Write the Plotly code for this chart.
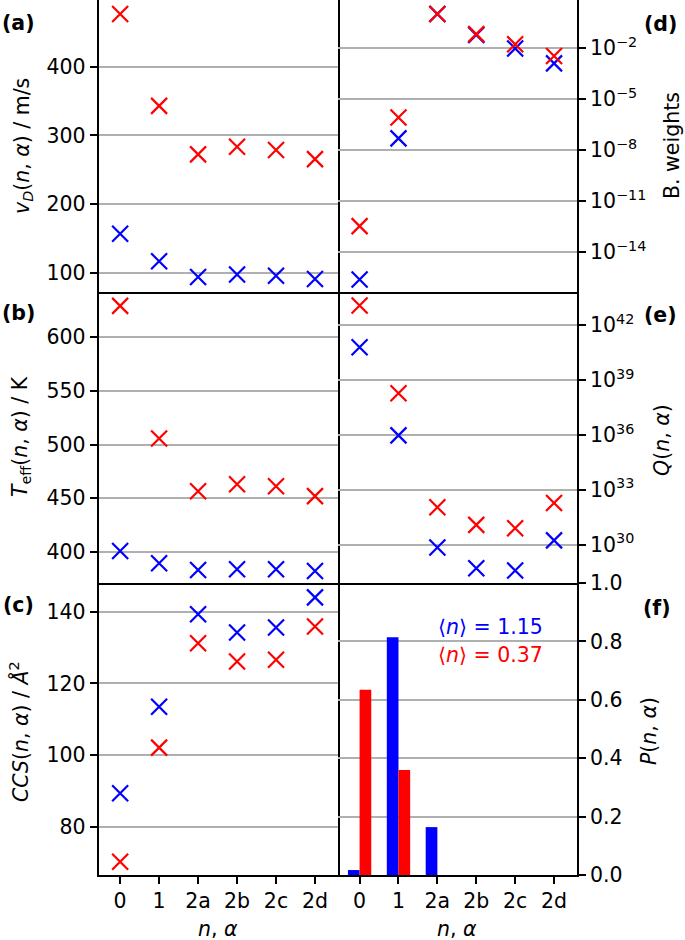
import plotly.graph_objects as go
from plotly.subplots import make_subplots

# ---------------- data ----------------
labels = ["0", "1", "2a", "2b", "2c", "2d"]
xpos = [0, 1, 2, 3, 4, 5]

vd_blue = [157, 117, 94, 97.7, 96, 91.3]
vd_red = [476.7, 343, 272.5, 283.6, 278.7, 265.6]

teff_blue = [401, 389.5, 383.3, 384, 384, 382.3]
teff_red = [629, 505.6, 456.5, 463, 461.2, 452]

ccs_blue = [89.4, 113.5, 139.3, 134.2, 135.6, 144.0]
ccs_red = [70.3, 102.1, 131.2, 126.1, 126.6, 135.9]

bw_blue = [2.5e-16, 4.9e-8, 1.0, 5.8e-2, 9.5e-3, 1.26e-3]
bw_red = [3.4e-13, 8.3e-7, 1.0, 6.6e-2, 1.66e-2, 3.4e-3]

q_blue = [6.3e40, 9.5e35, 6.9e29, 5.1e28, 3.8e28, 1.7e30]
q_red = [1.2e43, 1.9e38, 1.1e32, 1.2e31, 7.9e30, 1.9e32]

p_blue = [0.017, 0.814, 0.164, 0, 0, 0]
p_red = [0.634, 0.36, 0, 0, 0, 0]

mean_blue = "1.15"
mean_red = "0.37"

bw_ticks = [1e-14, 1e-11, 1e-8, 1e-5, 1e-2]
bw_ticktext = ["10<sup>−14</sup>", "10<sup>−11</sup>", "10<sup>−8</sup>",
               "10<sup>−5</sup>", "10<sup>−2</sup>"]
q_ticks = [1e30, 1e33, 1e36, 1e39, 1e42]
q_ticktext = ["10<sup>30</sup>", "10<sup>33</sup>", "10<sup>36</sup>",
              "10<sup>39</sup>", "10<sup>42</sup>"]

BLUE = "#0000ff"
RED = "#ff0000"
FONT = "DejaVu Sans"
W, H = 685, 940

fig = make_subplots(rows=3, cols=2, horizontal_spacing=0, vertical_spacing=0)


def xmark(x, y, color, row, col):
    fig.add_trace(go.Scatter(
        x=x, y=y, mode="markers", cliponaxis=False, showlegend=False,
        marker=dict(symbol="x-thin", size=16, color=color,
                    line=dict(color=color, width=2.2))), row=row, col=col)


xmark(xpos, vd_blue, BLUE, 1, 1)
xmark(xpos, vd_red, RED, 1, 1)
xmark(xpos, bw_blue, BLUE, 1, 2)
xmark(xpos, bw_red, RED, 1, 2)
xmark(xpos, teff_blue, BLUE, 2, 1)
xmark(xpos, teff_red, RED, 2, 1)
xmark(xpos, q_blue, BLUE, 2, 2)
xmark(xpos, q_red, RED, 2, 2)
xmark(xpos, ccs_blue, BLUE, 3, 1)
xmark(xpos, ccs_red, RED, 3, 1)

fig.add_trace(go.Bar(x=xpos, y=p_blue, width=0.3, offset=-0.3,
                     marker=dict(color=BLUE, line=dict(width=0)),
                     showlegend=False), row=3, col=2)
fig.add_trace(go.Bar(x=xpos, y=p_red, width=0.3, offset=0,
                     marker=dict(color=RED, line=dict(width=0)),
                     showlegend=False), row=3, col=2)

# ---------------- layout ----------------
xl = [98.5 / W, 338 / W]
xr = [338 / W, 577 / W]
rows_px = [(0, 292), (292, 583), (583, 875)]
ydom = [[1 - b / H, 1 - t / H] for (t, b) in rows_px]

LW = 1.7
tickfont = dict(family=FONT, size=20.5, color="black")
common_x = dict(range=[-0.555, 5.59], tickvals=xpos, ticktext=labels,
                showline=True, linecolor="black", linewidth=LW,
                showgrid=False, zeroline=False, tickfont=tickfont,
                ticks="outside", ticklen=7, tickwidth=1.5, tickcolor="black")
common_y = dict(showline=True, linecolor="black", linewidth=LW,
                showgrid=True, gridcolor="#b0b0b0", gridwidth=1.5,
                zeroline=False, tickfont=tickfont,
                ticks="outside", ticklen=7, tickwidth=1.5, tickcolor="black")

axes = {}
for i, (r, c) in enumerate([(1, 1), (1, 2), (2, 1), (2, 2), (3, 1), (3, 2)]):
    n = "" if i == 0 else str(i + 1)
    xd = xl if c == 1 else xr
    yd = ydom[r - 1]
    xa = dict(common_x, domain=xd, anchor="y" + n, mirror=(r == 1))
    if r < 3:
        xa.update(showticklabels=False, ticks="")
    ya = dict(common_y, domain=yd, anchor="x" + n,
              side="left" if c == 1 else "right", mirror=(c == 1))
    axes["xaxis" + n] = xa
    axes["yaxis" + n] = ya

axes["yaxis"].update(range=[72.3, 497], tickvals=[100, 200, 300, 400])
axes["yaxis3"].update(range=[371.2, 641.9], tickvals=[400, 450, 500, 550, 600])
axes["yaxis5"].update(range=[66.6, 148], tickvals=[80, 100, 120, 140])
axes["yaxis2"].update(type="log", range=[-16.34, 0.824], tickvals=bw_ticks,
                      ticktext=bw_ticktext)
axes["yaxis4"].update(type="log", range=[27.9, 43.82], tickvals=q_ticks,
                      ticktext=q_ticktext)
axes["yaxis6"].update(range=[0, 1], tickvals=[0, 0.2, 0.4, 0.6, 0.8, 1.0],
                      ticktext=["0.0", "0.2", "0.4", "0.6", "0.8", "1.0"])

fig.update_layout(**axes)


def ann(text, px, py, size=20.5, color="black", angle=0, **kw):
    fig.add_annotation(text=text, x=px / W, y=1 - py / H, xref="paper",
                       yref="paper", showarrow=False, textangle=angle,
                       font=dict(family=FONT, size=size, color=color),
                       xanchor="center", yanchor="middle", **kw)


# axis titles
ann("<i>v</i><sub><i>D</i></sub>(<i>n</i>, <i>α</i>) / m/s", 23, 146, angle=-90)
ann("<i>T</i><sub>eff</sub>(<i>n</i>, <i>α</i>) / K", 21, 437, angle=-90)
ann("<i>CCS</i>(<i>n</i>, <i>α</i>) / <i>Å</i><sup>2</sup>", 19, 732, angle=-90)
ann("B. weights", 672, 146, angle=-90)
ann("<i>Q</i>(<i>n</i>, <i>α</i>)", 662, 440, angle=-90)
ann("<i>P</i>(<i>n</i>, <i>α</i>)", 649, 731, angle=-90)
ann("<i>n</i>, <i>α</i>", 218, 929)
ann("<i>n</i>, <i>α</i>", 457, 929)

# panel labels
ann("<b>(a)</b>", 18, 23)
ann("<b>(b)</b>", 18, 313)
ann("<b>(c)</b>", 18, 605)
ann("<b>(d)</b>", 660, 24)
ann("<b>(e)</b>", 660, 315)
ann("<b>(f)</b>", 657, 608)

# mean annotations
ann("⟨<i>n</i>⟩ = " + mean_blue, 491, 627, color=BLUE)
ann("⟨<i>n</i>⟩ = " + mean_red, 491, 655, color=RED)

fig.update_layout(width=W, height=H, margin=dict(l=0, r=0, t=0, b=0,
                  autoexpand=False),
                  paper_bgcolor="white", plot_bgcolor="white",
                  barmode="overlay", showlegend=False,
                  font=dict(family=FONT, size=20.5, color="black"))

fig.write_html("out.html", config={"displayModeBar": False},
               post_script="document.body.style.margin='0';"
                           "document.body.style.overflow='hidden';")
